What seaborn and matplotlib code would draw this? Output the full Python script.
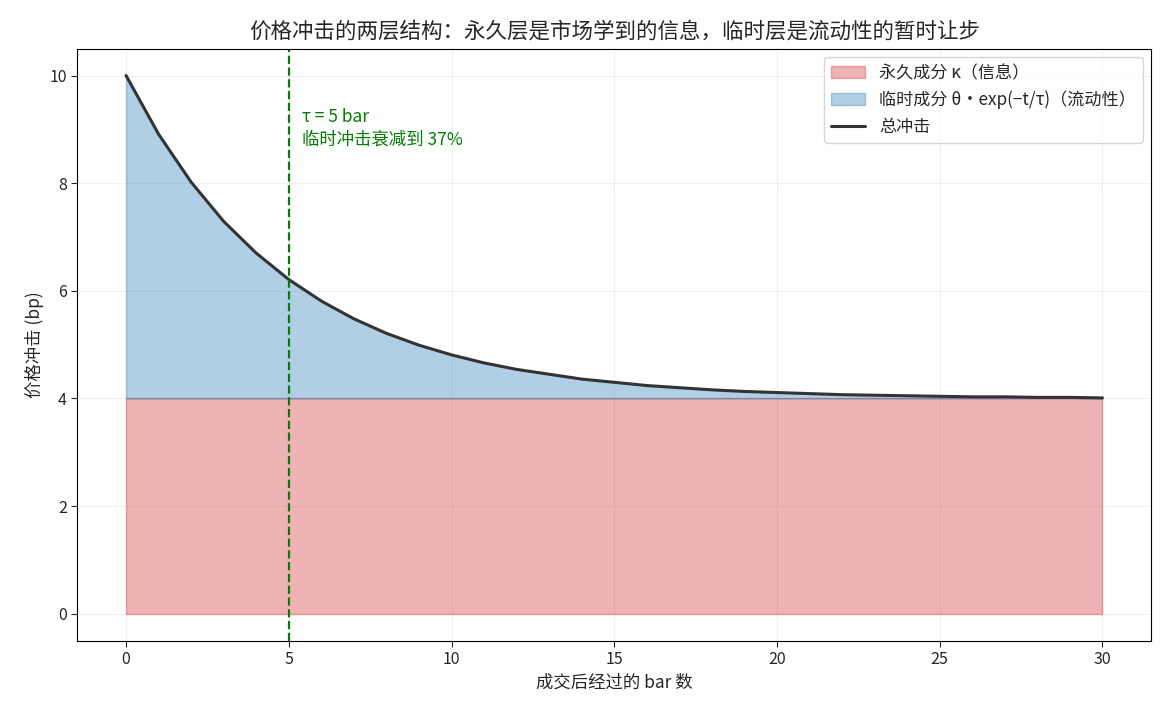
import matplotlib
matplotlib.use("Agg")
import matplotlib.pyplot as plt
import seaborn as sns
import numpy as np
import pandas as pd

# bars after the trade
bars = list(range(0, 31))
# permanent component (bp)
permanent = 4.0
# temporary component (bp)
temporary = [6.00, 4.91, 4.02, 3.29, 2.70, 2.21, 1.81, 1.48, 1.21, 0.99,
             0.81, 0.66, 0.54, 0.45, 0.36, 0.30, 0.24, 0.20, 0.16, 0.13,
             0.11, 0.09, 0.07, 0.06, 0.05, 0.04, 0.03, 0.03, 0.02, 0.02, 0.01]
tau = 5

sns.set_style("white")
plt.rcParams['font.family'] = ['Noto Sans CJK SC', 'DejaVu Sans']
plt.rcParams['axes.unicode_minus'] = False

df = pd.DataFrame({'t': bars, 'temp': temporary})
df['perm'] = permanent
df['total'] = df['perm'] + df['temp']

fig, ax = plt.subplots(figsize=(11.7, 7.15), dpi=100)

ax.fill_between(df['t'], 0, df['perm'], color='tab:red', alpha=0.35,
                label='永久成分 κ（信息）')
ax.fill_between(df['t'], df['perm'], df['total'], color='tab:blue', alpha=0.35,
                label='临时成分 θ·exp(−t/τ)（流动性）')
sns.lineplot(data=df, x='t', y='total', color='#333333', linewidth=2.2,
             label='总冲击', ax=ax)

ax.axvline(tau, color='green', linestyle='--', linewidth=1.6)
ax.text(tau + 0.42, 9.4, 'τ = 5 bar\n临时冲击衰减到 37%', color='green',
        fontsize=12.5, va='top', linespacing=1.35)

ax.set_title('价格冲击的两层结构：永久层是市场学到的信息，临时层是流动性的暂时让步',
             fontsize=15.5, pad=8)
ax.set_xlabel('成交后经过的 bar 数', fontsize=12.5)
ax.set_ylabel('价格冲击 (bp)', fontsize=12.5)
ax.grid(True, alpha=0.3)
ax.tick_params(axis='both', which='both', length=4, labelsize=11.5, left=True, bottom=True)
for s in ax.spines.values():
    s.set_color('black')
ax.legend(loc='upper right', fontsize=12.3)

fig.subplots_adjust(left=0.066, right=0.984, top=0.932, bottom=0.104)
fig.savefig('out.png', dpi=100)
